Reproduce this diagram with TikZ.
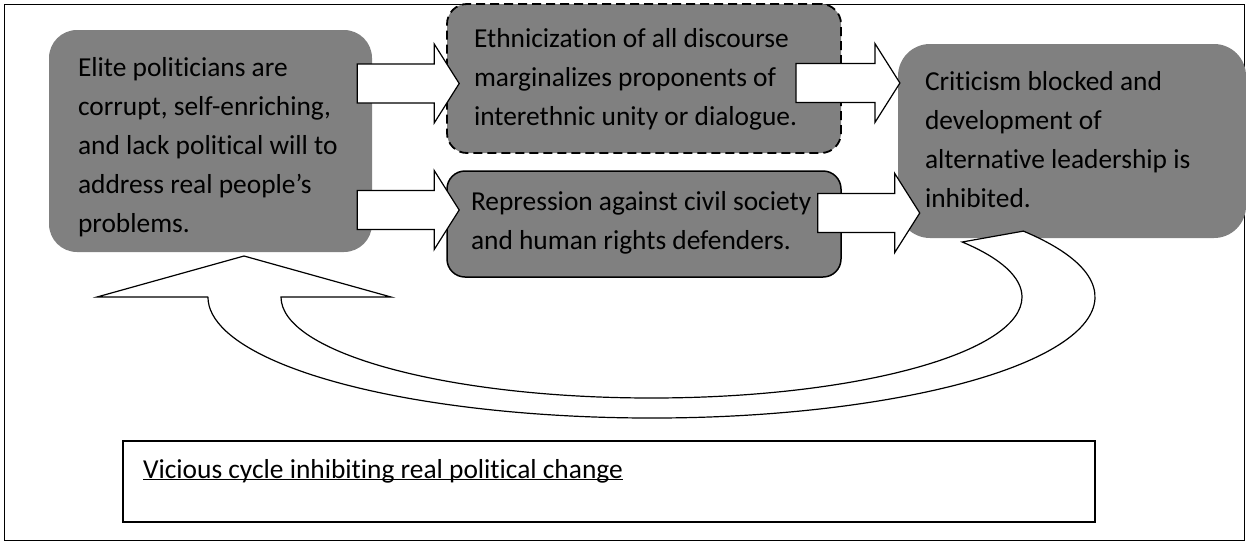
\documentclass[tikz,border=0pt]{standalone}
\usepackage{fontspec}
\setmainfont{Carlito}[Ligatures=NoCommon]
\usetikzlibrary{calc}
\tikzset{
  barr/.style={fill=white, draw, line width=1.2pt, line join=miter},
  barrow/.pic={
    \path[barr] (0,-19.5) -- ({#1-25},-19.5) -- ({#1-25},-39.5) -- (#1,0)
      -- ({#1-25},39.5) -- ({#1-25},19.5) -- (0,19.5) -- cycle;
  }
}
\begin{document}
\begin{tikzpicture}[x=1pt, y=-1pt, font=\fontsize{27.4pt}{39pt}\selectfont,
    gbox/.style={fill=gray, rounded corners=#1, align=flush left, inner ysep=0pt}]
  \useasboundingbox (0,0) rectangle (1246,544);
  \draw[line width=1pt] (4,4) rectangle (1244,540);

  \node[gbox=28pt, text width=265pt, inner xsep=29pt, text height=46.5pt, text depth=175.5pt] (elite) at (210.5,141)
    {Elite politicians are\\corrupt, self-enriching,\\and lack political will to\\address real people’s\\problems.};
  \node[gbox=20pt, draw, line width=1.8pt, dash pattern=on 9pt off 5pt, text width=340pt, inner xsep=27pt, text height=43pt, text depth=106pt] (ethnic) at (644,78.5)
    {Ethnicization of all discourse\\marginalizes proponents of\\interethnic unity or dialogue.};
  \node[gbox=18pt, draw, line width=1.5pt, text width=346pt, inner xsep=24pt, text height=39.5pt, text depth=66.5pt] (repress) at (644,224)
    {Repression against civil society\\and human rights defenders.};
  \node[gbox=32pt, text width=294pt, inner xsep=27pt, text height=46.5pt, text depth=147.5pt] (critic) at (1072,141)
    {Criticism blocked and\\development of\\alternative leadership is\\inhibited.};
  \node[draw, line width=1.5pt, fill=white, align=flush left, text width=932pt, inner xsep=20pt, inner ysep=0pt, text height=37pt, text depth=44pt] (vicious) at (609,481.5)
    {\underline{\smash{Vicious cycle inhibiting real political change}}};

  \draw[barr] (208,297) -- (97,297) -- (244,256) -- (391,297) -- (281,297)
    arc[start angle=180, end angle=-33, x radius=370.5, y radius=101] -- (1023.4,231.1)
    arc[start angle=-33, end angle=180, x radius=443.5, y radius=121] -- cycle;

  \pic at ($(elite.east |- 0,83.5)+(-15,0)$) {barrow=102};
  \pic at ($(elite.east |- 0,210)+(-15,0)$) {barrow=102};
  \pic at ($(ethnic.east |- 0,83)+(-46,0)$) {barrow=104};
  \pic at ($(repress.east |- 0,213)+(-24,0)$) {barrow=102};
\end{tikzpicture}
\end{document}
